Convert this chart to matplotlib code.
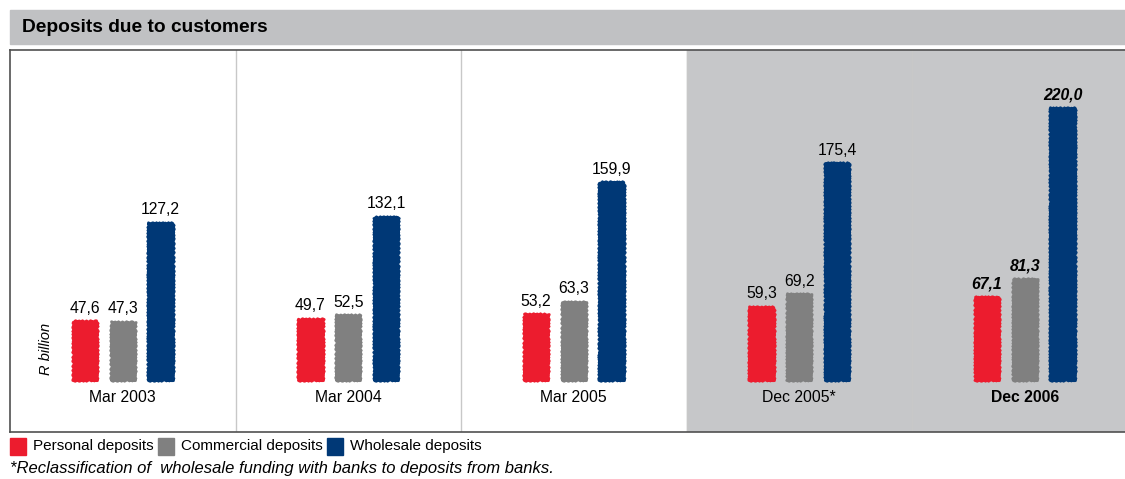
import numpy as np
import matplotlib.pyplot as plt
from matplotlib.patches import Rectangle

periods = ['Mar 2003', 'Mar 2004', 'Mar 2005', 'Dec 2005*', 'Dec 2006']
personal = [47.6, 49.7, 53.2, 59.3, 67.1]
commercial = [47.3, 52.5, 63.3, 69.2, 81.3]
wholesale = [127.2, 132.1, 159.9, 175.4, 220.0]
series_names = ['Personal deposits', 'Commercial deposits', 'Wholesale deposits']
colors = ['#ec1c2e', '#808080', '#003876']

W, H = 1125, 479
fig = plt.figure(figsize=(W / 100, H / 100), dpi=100)
plt.rcParams['font.family'] = ['Liberation Sans', 'DejaVu Sans']

# title bar
fig.patches.append(Rectangle((10 / W, 1 - 44 / H), (W - 10) / W, 34 / H,
                             transform=fig.transFigure, color='#c0c1c3', zorder=0))
fig.text(22 / W, 1 - 28 / H, 'Deposits due to customers', fontsize=13.8,
         fontweight='bold', va='center', ha='left')

# plot area runs past the right edge of the page
ax = fig.add_axes([10 / W, 1 - 432 / H, 1127.5 / W, 382 / H])
ax.set_xlim(0, 5)
ax.set_ylim(-42.1, 267)
ax.set_xticks([])
ax.set_yticks([])
for s in ax.spines.values():
    s.set_color('#505050')
    s.set_linewidth(1.2)

# shaded background for the December periods
ax.axvspan(3, 5, color='#c6c7c9', zorder=0)
for i in range(1, 5):
    ax.axvline(i, color='#c8c8c8', lw=1, zorder=1)

x = np.arange(len(periods)) + 0.5
offset = 0.168
width = 0.108
for j, (vals, c) in enumerate(zip([personal, commercial, wholesale], colors)):
    xs = x + (j - 1) * offset
    bars = ax.bar(xs, vals, width=width, color=c, edgecolor=c, linewidth=2,
                  joinstyle='round', zorder=2)
    # brush-stroke edges
    for b in bars:
        b.set_sketch_params(0.8, 4, 2)
    for k, (xx, v) in enumerate(zip(xs, vals)):
        bold = k == len(periods) - 1
        ax.text(xx, v + 4.5, f'{v:.1f}'.replace('.', ','), ha='center', va='bottom',
                fontsize=11.3, fontweight='bold' if bold else 'normal',
                fontstyle='italic' if bold else 'normal', zorder=3)

for k, (xx, p) in enumerate(zip(x, periods)):
    ax.text(xx, -14.5, p, ha='center', va='center', fontsize=11.3,
            fontweight='bold' if k == len(periods) - 1 else 'normal')

ax.text(0.16, 25, 'R billion', rotation=90, ha='center', va='center',
        fontsize=10.5, fontstyle='italic')

# legend row
leg_x = [10, 158, 327]
for lx, name, c in zip(leg_x, series_names, colors):
    fig.patches.append(Rectangle((lx / W, 1 - 455 / H), 16 / W, 17 / H,
                                 transform=fig.transFigure, color=c))
    fig.text((lx + 23) / W, 1 - 446 / H, name, fontsize=11, va='center', ha='left')

fig.text(10 / W, 1 - 469 / H,
         '*Reclassification of  wholesale funding with banks to deposits from banks.',
         fontsize=12, fontstyle='italic', va='center', ha='left')

fig.savefig('out.png', dpi=100)
